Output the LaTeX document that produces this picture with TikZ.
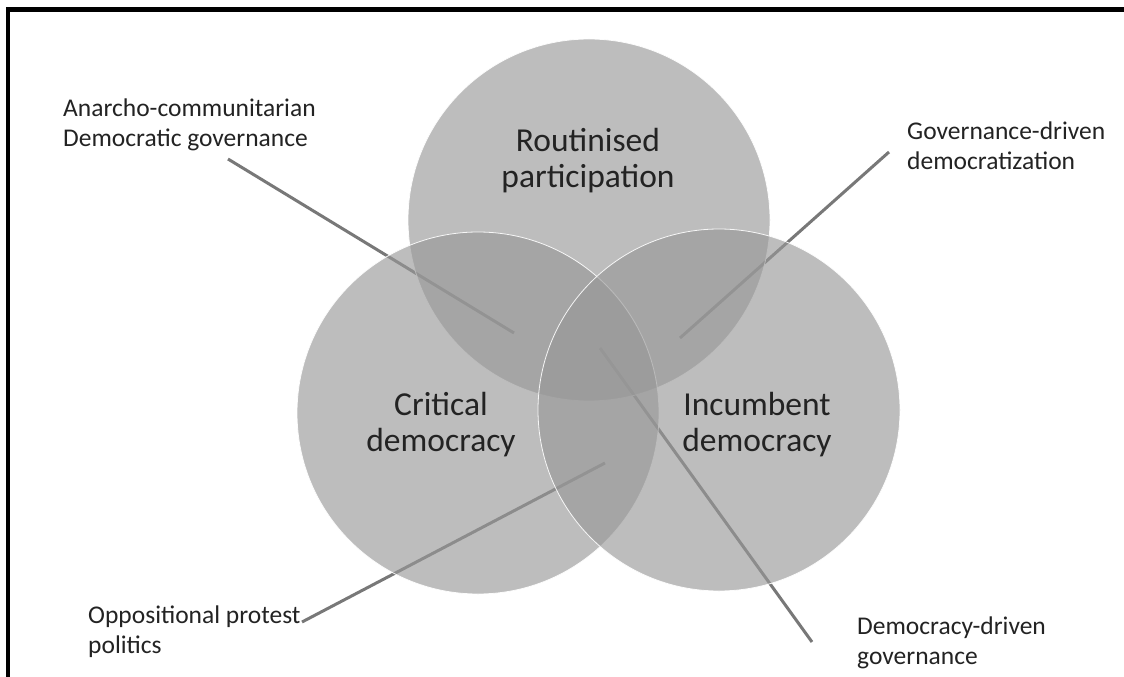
\documentclass[tikz,border=0pt]{standalone}
\usepackage{fontspec}
\setmainfont{Carlito}
\definecolor{txt}{RGB}{35,35,35}
\definecolor{linegray}{RGB}{120,120,120}
\definecolor{circgray}{RGB}{152,152,152}
\begin{document}
\begin{tikzpicture}[x=1pt,y=-1pt,
  vcirc/.style={circle, inner sep=0pt, minimum size=362pt, fill=circgray, fill opacity=0.63, draw=white, draw opacity=0.9, line width=0.8pt},
  biglabel/.style={align=center, font=\fontsize{33.5}{36}\selectfont, text=txt, inner sep=0pt, anchor=base},
  smalllabel/.style={align=left, font=\fontsize{25.5}{30}\selectfont, text=txt, inner sep=0pt, anchor=base west},
  conn/.style={draw=linegray, line width=3pt}]
\useasboundingbox (0,0) rectangle (1124,677);
\fill[white] (0,0) rectangle (1124,677);
% frame
\draw[line width=4.4pt, line join=miter] (8,690) -- (8,9.5) -- (1135,9.5);

% connector end points
\coordinate (anarchoTail) at (228,159);
\coordinate (anarchoTip) at (514,333);
\coordinate (govTail) at (889,152);
\coordinate (govTip) at (680,338);
\coordinate (oppTail) at (302,622);
\coordinate (oppTip) at (605,463);
\coordinate (demTail) at (812,642);
\coordinate (demTip) at (600,348);

% connectors (under the circles)
\draw[conn] (anarchoTail) -- (anarchoTip);
\draw[conn] (govTail) -- (govTip);
\draw[conn] (oppTail) -- (oppTip);
\draw[conn] (demTail) -- (demTip);

% circles
\node[vcirc] (routinised) at (589,220) {};
\node[vcirc] (critical) at (478,413) {};
\node[vcirc] (incumbent) at (719,410) {};

% circle labels (anchor = baseline of last line)
\node[biglabel] (routinisedText) at (588,187) {Routinised\\participation};
\node[biglabel] (criticalText) at (441,451) {Critical\\democracy};
\node[biglabel] (incumbentText) at (757,451) {Incumbent\\democracy};

% outer labels (anchor = baseline of last line)
\node[smalllabel] (anarcho) at (63,146) {Anarcho-communitarian\\Democratic governance};
\node[smalllabel] (govdriven) at (907,169) {Governance-driven\\democratization};
\node[smalllabel] (oppositional) at (88,653) {Oppositional protest\\politics};
\node[smalllabel] (demdriven) at (857,664) {Democracy-driven\\governance};
\end{tikzpicture}
\end{document}
